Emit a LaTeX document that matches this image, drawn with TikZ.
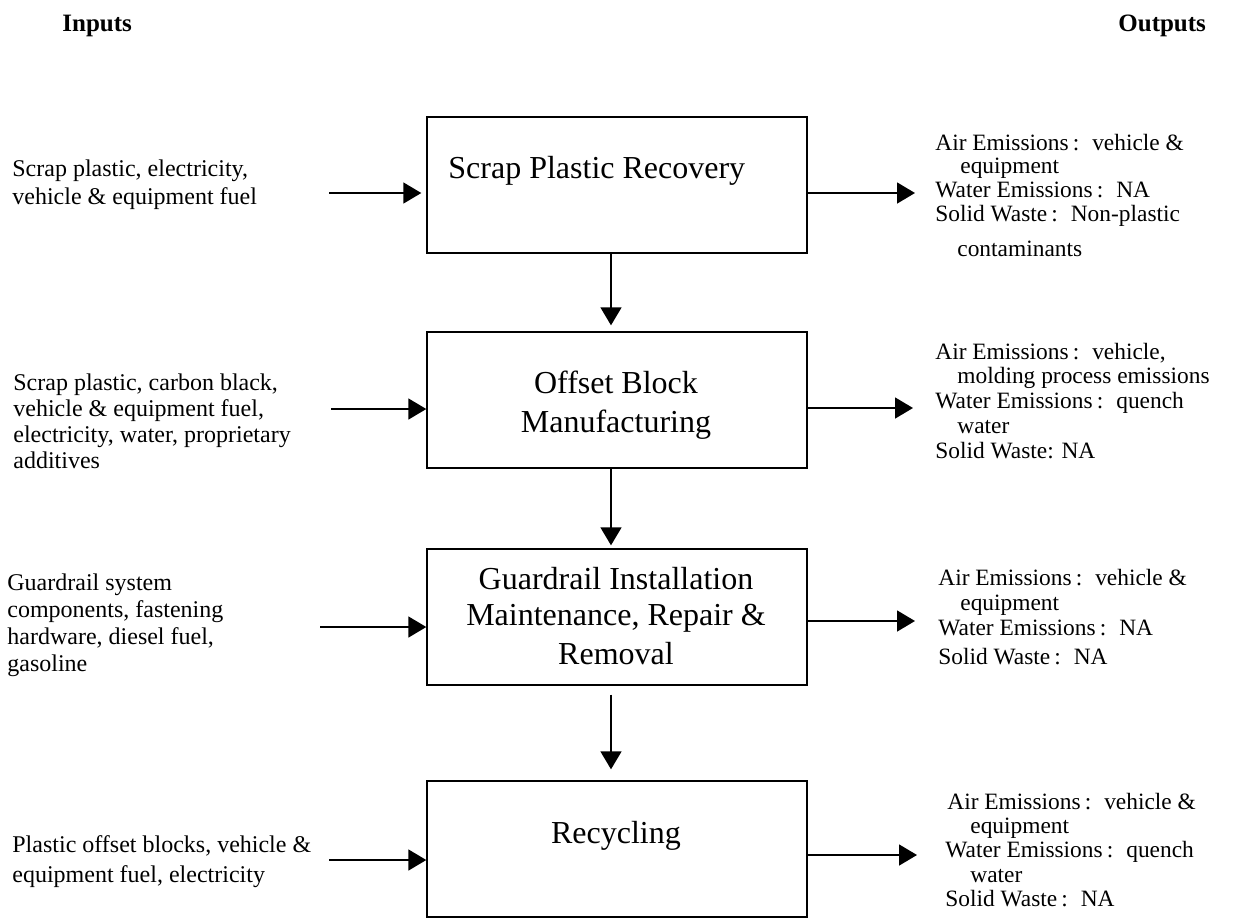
\documentclass[tikz,border=0pt]{standalone}
\usepackage{fontspec}
\setmainfont{Liberation Serif}
\usetikzlibrary{arrows.meta,calc}
\newcommand{\emcolon}{\kern.18em:\hspace{0.55em}}
\tikzset{
  procbox/.style={draw=black,line width=0.7pt,minimum width=190pt,minimum height=68pt,inner sep=0pt},
  boxtext/.style={inner sep=0pt,font=\fontsize{16}{19}\selectfont,anchor=base},
  intext/.style={inner sep=0pt,font=\fontsize{12}{14}\selectfont,anchor=base west},
  outtext/.style={inner sep=0pt,font=\fontsize{11.7}{14}\selectfont,anchor=base west},
  headtext/.style={inner sep=0pt,font=\fontsize{12.5}{15}\selectfont\bfseries,anchor=base west},
  arr/.style={line width=0.8pt,-{Triangle[length=9pt,width=10.5pt]}}
}
\begin{document}
\begin{tikzpicture}[x=0.5pt,y=-0.5pt]
\useasboundingbox (0,0) rectangle (1233,918);

% headers
\node[headtext] (hin) at (62,31) {Inputs};
\node[headtext] (hout) at (1118,31) {Outputs};

% process boxes
\node[procbox] (b1) at (617,185) {};
\node[procbox] (b2) at (617,400) {};
\node[procbox] (b3) at (617,617) {};
\node[procbox] (b4) at (617,849) {};

% box texts
\node[boxtext,anchor=base west] (t1) at (448,178) {Scrap Plastic Recovery};
\node[boxtext] (t2a) at (616,393) {Offset Block};
\node[boxtext] (t2b) at (616,432) {Manufacturing};
\node[boxtext] (t3a) at (616,589) {Guardrail Installation};
\node[boxtext] (t3b) at (616,625) {Maintenance, Repair \&};
\node[boxtext] (t3c) at (616,664) {Removal};
\node[boxtext] (t4) at (616,843) {Recycling};

% inputs
\node[intext] (l1a) at (12,176) {Scrap plastic, electricity,};
\node[intext] (l1b) at (12,204) {vehicle \& equipment fuel};

\node[intext] (l2a) at (13,390) {Scrap plastic, carbon black,};
\node[intext] (l2b) at (13,416) {vehicle \& equipment fuel,};
\node[intext] (l2c) at (13,442) {electricity, water, proprietary};
\node[intext] (l2d) at (13,468) {additives};

\node[intext] (l3a) at (7,590) {Guardrail system};
\node[intext] (l3b) at (7,617) {components, fastening};
\node[intext] (l3c) at (7,644) {hardware, diesel fuel,};
\node[intext] (l3d) at (7,671) {gasoline};

\node[intext] (l4a) at (12,852) {Plastic offset blocks, vehicle \&};
\node[intext] (l4b) at (12,882) {equipment fuel, electricity};

% outputs
\node[outtext] (r1a) at (935,150) {Air Emissions\emcolon vehicle \&};
\node[outtext] (r1b) at (960,173) {equipment};
\node[outtext] (r1c) at (935,197) {Water Emissions\emcolon NA};
\node[outtext] (r1d) at (935,221) {Solid Waste\emcolon Non-plastic};
\node[outtext] (r1e) at (957,256) {contaminants};

\node[outtext] (r2a) at (935,359) {Air Emissions\emcolon vehicle,};
\node[outtext] (r2b) at (957,383) {molding process emissions};
\node[outtext] (r2c) at (935,408) {Water Emissions\emcolon quench};
\node[outtext] (r2d) at (957,433) {water};
\node[outtext] (r2e) at (935,458) {Solid Waste: NA};

\node[outtext] (r3a) at (938,585) {Air Emissions\emcolon vehicle \&};
\node[outtext] (r3b) at (960,610) {equipment};
\node[outtext] (r3c) at (938,635) {Water Emissions\emcolon NA};
\node[outtext] (r3d) at (938,664) {Solid Waste\emcolon NA};

\node[outtext] (r4a) at (947,809) {Air Emissions\emcolon vehicle \&};
\node[outtext] (r4b) at (970,833) {equipment};
\node[outtext] (r4c) at (945,857) {Water Emissions\emcolon quench};
\node[outtext] (r4d) at (970,882) {water};
\node[outtext] (r4e) at (945,906) {Solid Waste\emcolon NA};

% free ends of connectors
\coordinate (i1) at (329,193);
\coordinate (i2) at (331,409);
\coordinate (i3) at (320,627);
\coordinate (i4) at (329,860);
\coordinate (o1) at (915,193);
\coordinate (o2) at (913,408);
\coordinate (o3) at (915,621);
\coordinate (o4) at (917,855);

% input arrows
\draw[arr,shorten >=2.5pt] (i1) -- (i1 -| b1.west);
\draw[arr] (i2) -- (i2 -| b2.west);
\draw[arr] (i3) -- (i3 -| b3.west);
\draw[arr] (i4) -- (i4 -| b4.west);

% output arrows
\draw[arr] (o1 -| b1.east) -- (o1);
\draw[arr] (o2 -| b2.east) -- (o2);
\draw[arr] (o3 -| b3.east) -- (o3);
\draw[arr] (o4 -| b4.east) -- (o4);

% flow arrows
\draw[arr,shorten >=3pt] ([xshift=-3pt]b1.south) -- ([xshift=-3pt]b2.north);
\draw[arr,shorten >=1.5pt] ([xshift=-3pt]b2.south) -- ([xshift=-3pt]b3.north);
\draw[arr,shorten <=4.5pt,shorten >=5.5pt] ([xshift=-3pt]b3.south) -- ([xshift=-3pt]b4.north);
\end{tikzpicture}
\end{document}
